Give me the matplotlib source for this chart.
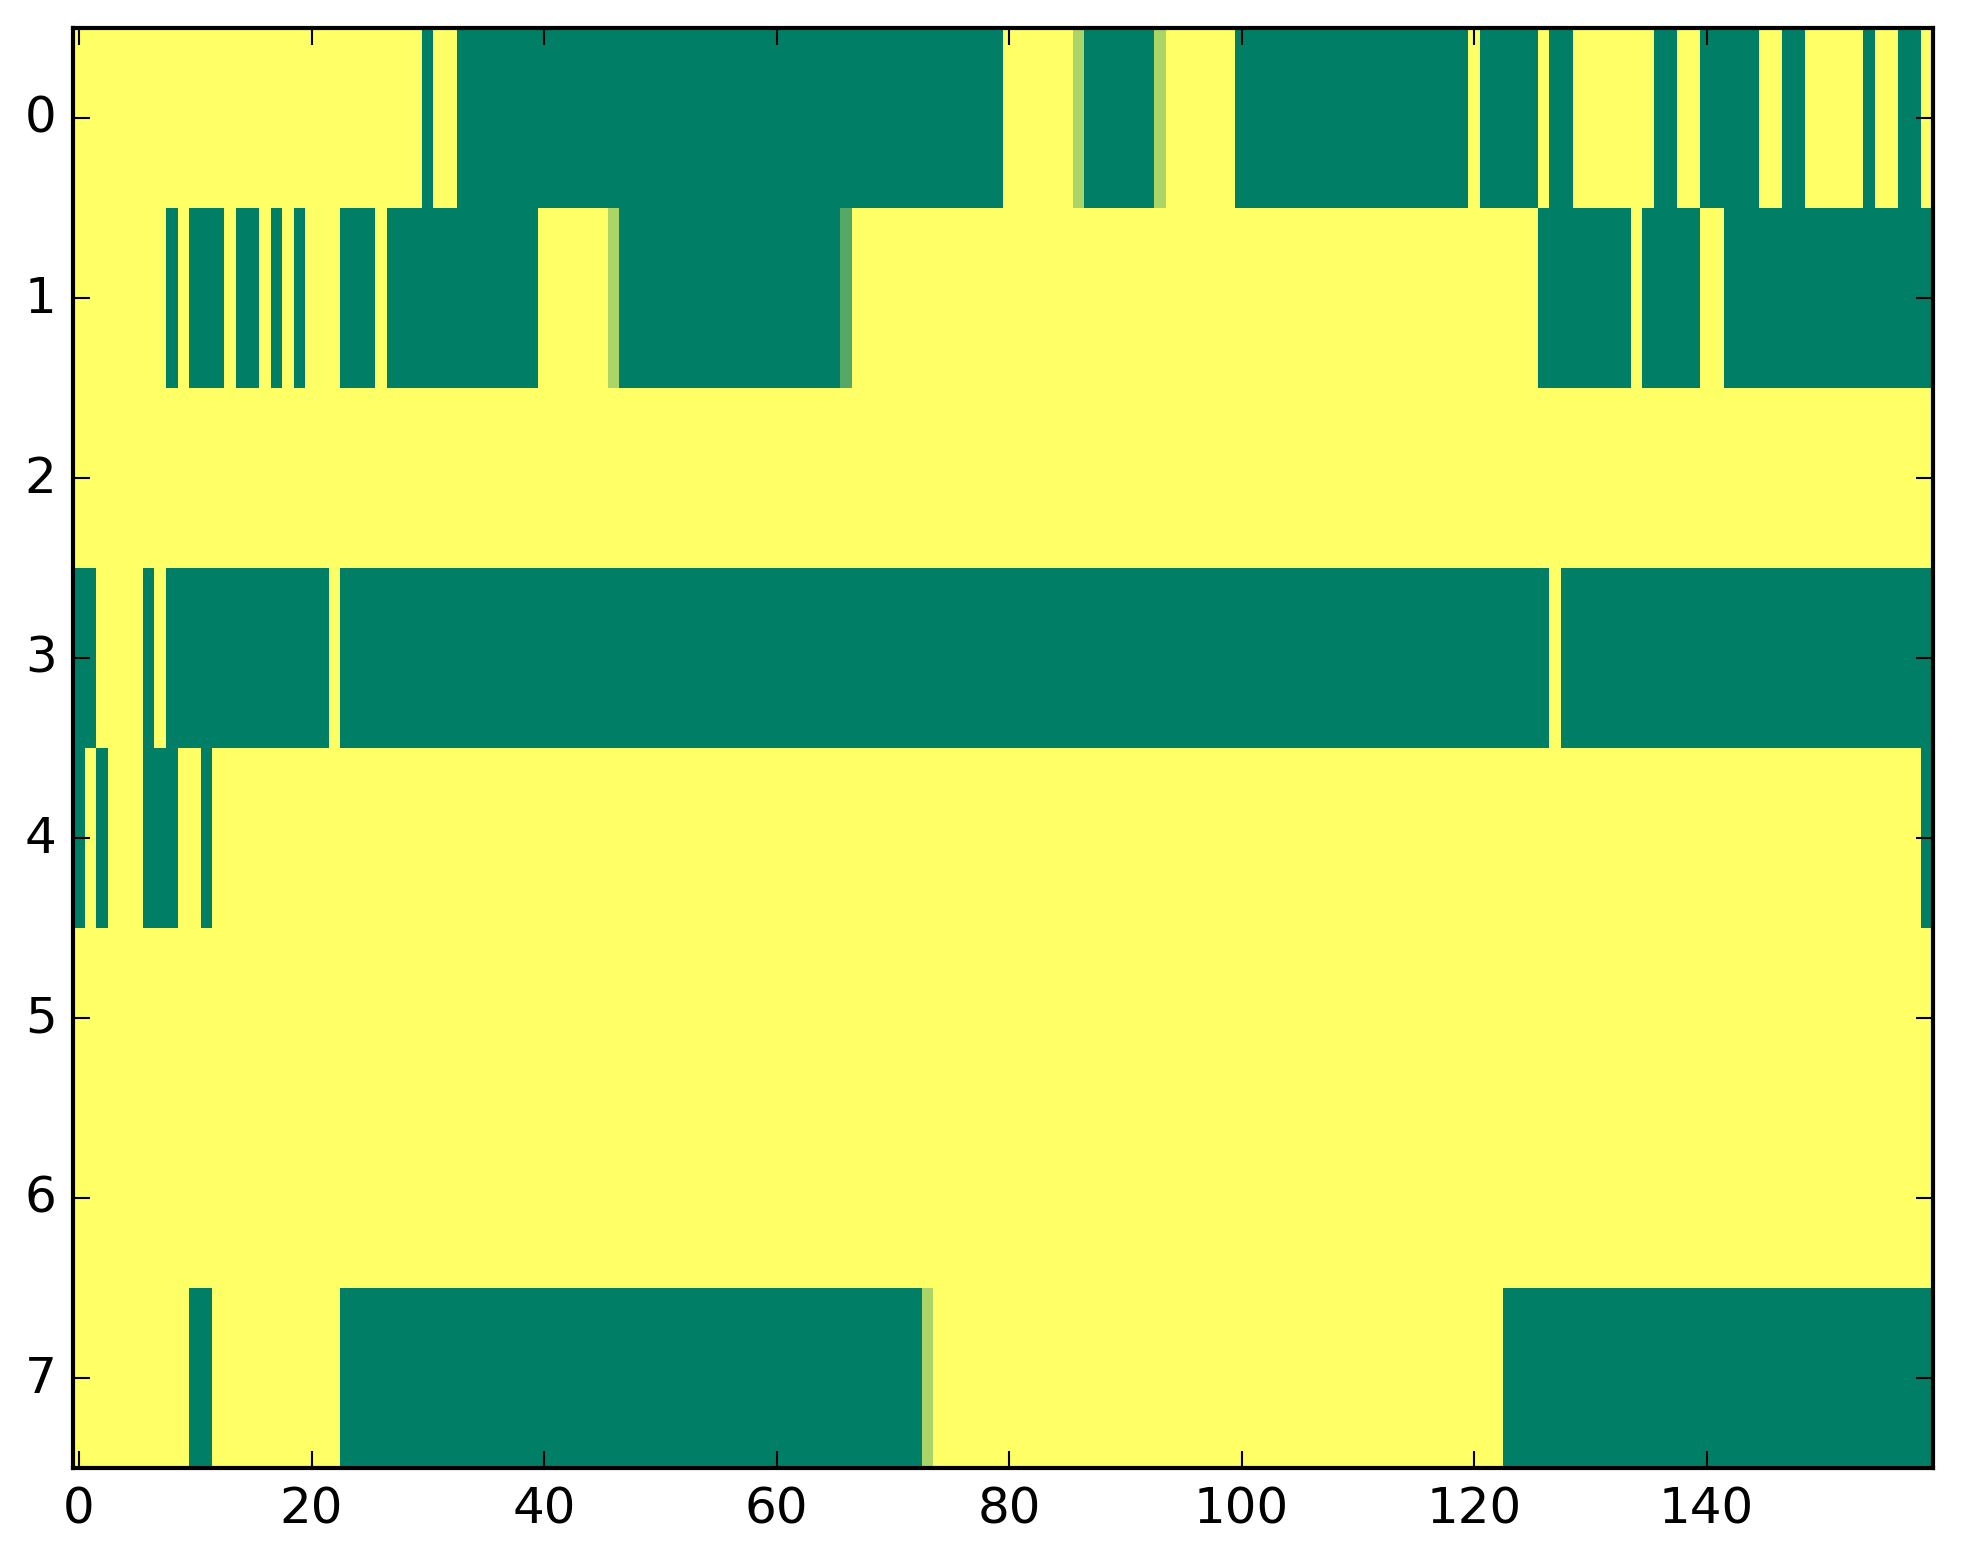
import numpy as np
import matplotlib
matplotlib.use('Agg')
from matplotlib import pyplot as plt

plt.style.use('classic')

# each row written as runs of (value, length), read left to right
row0 = [(0, 30), (1, 1), (0, 2), (1, 47), (0, 6), (0.33, 1), (1, 6), (0.33, 1),
        (0, 6), (1, 20), (0, 1), (1, 5), (0, 1), (1, 2), (0, 7), (1, 2), (0, 2),
        (1, 5), (0, 2), (1, 2), (0, 5), (1, 1), (0, 2), (1, 2), (0, 1)]
row1 = [(0, 8), (1, 1), (0, 1), (1, 3), (0, 1), (1, 2), (0, 1), (1, 1), (0, 1),
        (1, 1), (0, 3), (1, 3), (0, 1), (1, 13), (0, 6), (0.33, 1), (1, 19),
        (0.67, 1), (0, 59), (1, 8), (0, 1), (1, 5), (0, 2), (1, 18)]
row2 = [(0, 160)]
row3 = [(1, 2), (0, 4), (1, 1), (0, 1), (1, 14), (0, 1), (1, 104), (0, 1), (1, 32)]
row4 = [(1, 1), (0, 1), (1, 1), (0, 3), (1, 3), (0, 2), (1, 1), (0, 147), (1, 1)]
row5 = [(0, 160)]
row6 = [(0, 160)]
row7 = [(0, 10), (1, 2), (0, 11), (1, 50), (0.33, 1), (0, 49), (1, 37)]

rows = [row0, row1, row2, row3, row4, row5, row6, row7]

#Expand the runs into the 8 x 160 grid
grid = []
for r in rows:
    vals = [v for v, n in r]
    counts = [n for v, n in r]
    grid.append(np.repeat(vals, counts))
grid = np.array(grid, dtype=float)

fig = plt.figure(figsize=(1963 / 300, 1564 / 300), dpi=300)
ax = fig.add_axes([73.2 / 1963, 95.3 / 1564, 1860 / 1963, 1440 / 1564])
ax.imshow(grid, cmap='summer_r', vmin=0, vmax=1, aspect='auto', interpolation='nearest')
ax.set_xticks([0, 20, 40, 60, 80, 100, 120, 140])
ax.set_yticks(range(8))
ax.set_xlim(-0.5, 159.5)
ax.set_ylim(7.5, -0.5)
fig.savefig('out.png', dpi=300)
